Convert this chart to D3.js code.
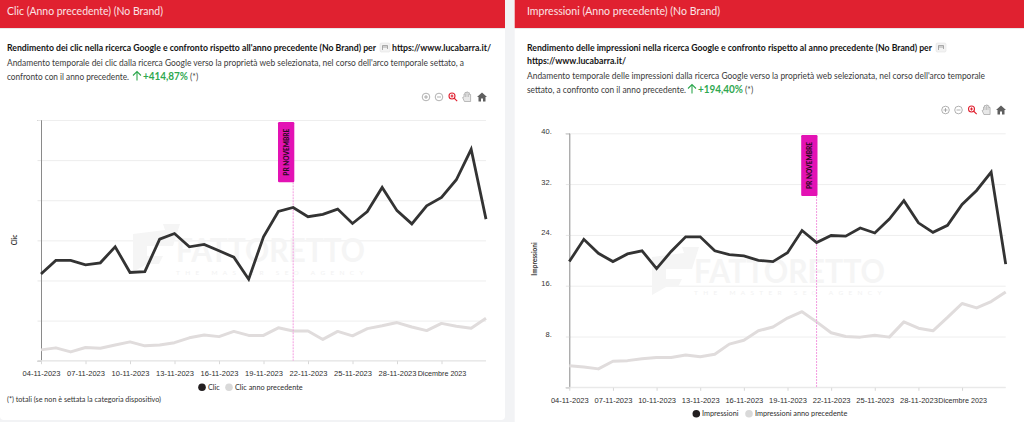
<!DOCTYPE html>
<html><head><meta charset="utf-8">
<script src="https://cdn.jsdelivr.net/npm/d3@7"></script>
<style>
html,body{margin:0;padding:0;background:#f2f3f5;overflow:hidden}
svg{display:block;font-family:"Lato","Open Sans",sans-serif}
</style></head><body><svg id="c" width="1024" height="422"></svg>
<script>
const days = ["04-11-2023","05-11-2023","06-11-2023","07-11-2023","08-11-2023","09-11-2023","10-11-2023","11-11-2023","12-11-2023","13-11-2023","14-11-2023","15-11-2023","16-11-2023","17-11-2023","18-11-2023","19-11-2023","20-11-2023","21-11-2023","22-11-2023","23-11-2023","24-11-2023","25-11-2023","26-11-2023","27-11-2023","28-11-2023","29-11-2023","30-11-2023","01-12-2023","02-12-2023","03-12-2023","04-12-2023"];
const tickDays = ["04-11-2023","07-11-2023","10-11-2023","13-11-2023","16-11-2023","19-11-2023","22-11-2023","25-11-2023","28-11-2023","01-12-2023"];
const annotationDay = "21-11-2023";
const annotationLabel = "PR NOVEMBRE";
const clic = [21.6,25.0,25.0,23.9,24.4,28.4,22.0,22.2,30.3,31.7,28.4,29.0,27.4,25.8,20.3,30.9,37.2,38.2,35.9,36.5,37.8,34.2,37.2,43.2,37.4,34.1,38.6,40.7,45.1,52.7,35.3];
const clicPrev = [2.7,3.2,2.2,3.3,3.1,3.9,4.7,3.7,3.9,4.5,5.7,6.4,6.0,7.3,6.3,6.3,8.2,7.4,7.4,5.3,7.3,6.2,8.0,8.7,9.5,8.4,7.5,9.3,8.6,8.1,10.6];
const impressioni = [19.8,23.3,21.1,19.8,21.0,21.5,18.7,21.4,23.7,23.7,21.5,20.9,20.7,20.0,19.8,21.2,24.7,22.8,23.9,23.8,25.1,24.3,26.5,29.4,25.9,24.4,25.5,28.8,31.0,33.9,19.4];
const impressioniPrev = [3.4,3.2,2.9,4.1,4.2,4.5,4.7,4.7,5.1,4.8,5.2,6.8,7.4,8.9,9.5,10.9,11.9,10.3,8.6,8.0,7.9,8.2,7.9,10.3,9.3,8.9,11.0,13.2,12.5,13.5,15.0];
const clicTicks = [0,10,20,30,40,50,60];
const impTicks = [0,8,16,24,32,40];

const panels = [
 {px:0,pw:505,pBot:420,header:"Clic (Anno precedente) (No Brand)",headW:156,tx:7,
  title:["Rendimento dei clic nella ricerca Google e confronto rispetto all'anno precedente (No Brand) per"],
  url:"https://www.lucabarra.it/",titleW:[369],iconX:380,urlX:392,urlY:50.5,urlW:99,
  sub:["Andamento temporale dei clic dalla ricerca Google verso la proprietà web selezionata, nel corso dell'arco temporale settato, a","confronto con il anno precedente."],
  subW:[457,122],subY:[66,79.5],pct:"+414,87%",arrowX:133,pctX:143,starX:190,iconY:97,
  icons:[426,439,453,467,482],
  x0:41,x1:486,yTop:120,yBot:360.7,dom:[0,60],ticks:clicTicks,showY:false,
  a:clic,b:clicPrev,name:"Clic",prevName:"Clic anno precedente",
  yLabel:[17,240],annTop:122,annBot:182.3,annRight:294.3,
  xTickY:376.5,legY:387.3,leg:[202,208,229,235],
  foot:true,wm:[133,222,176,262,189,272]},
 {px:514.7,pw:510,pBot:430,header:"Impressioni (Anno precedente) (No Brand)",headW:193,tx:527,
  title:["Rendimento delle impressioni nella ricerca Google e confronto rispetto al anno precedente (No Brand) per"],
  url:"https://www.lucabarra.it/",titleW:[405],iconX:936,urlX:527,urlY:63.5,urlW:99,
  sub:["Andamento temporale delle impressioni dalla ricerca Google verso la proprietà web selezionata, nel corso dell'arco temporale","settato, a confronto con il anno precedente."],
  subW:[458,159],subY:[79,92.5],pct:"+194,40%",arrowX:688,pctX:698,starX:745,iconY:110,
  icons:[945.5,958.5,972.5,986.5,1001],
  x0:569.3,x1:1005.7,yTop:133.3,yBot:387.3,dom:[0,40],ticks:impTicks,showY:true,
  a:impressioni,b:impressioniPrev,name:"Impressioni",prevName:"Impressioni anno precedente",
  yLabel:[537,259],annTop:135,annBot:196,annRight:817.5,
  xTickY:403,legY:413.7,leg:[696.3,702,749,755],
  foot:false,wm:[652,245,694,283,191,292]}
];

const svg = d3.select("#c");
const dark="#333333", light="#e0dcdc", red="#e02130", green="#2fa84f", pink="#e312b4";

function t(g,x,y,s,o={}){
  const e=g.append("text").attr("x",x).attr("y",y).text(s)
   .attr("font-size",o.size||9.5).attr("fill",o.fill||"#444").attr("font-weight",o.weight||400);
  if(o.w) e.attr("textLength",o.w).attr("lengthAdjust","spacingAndGlyphs");
  if(o.anchor) e.attr("text-anchor",o.anchor);
  if(o.ls) e.attr("letter-spacing",o.ls);
  return e;
}

panels.forEach(p=>{
  const g=svg.append("g");
  g.append("rect").attr("x",p.px).attr("y",-6).attr("width",p.pw).attr("height",p.pBot+6).attr("rx",4).attr("fill","#fff");
  g.append("rect").attr("x",p.px).attr("y",0).attr("width",p.pw).attr("height",28).attr("fill",red);
  g.append("rect").attr("x",p.px).attr("y",28).attr("width",p.pw).attr("height",1).attr("fill","#e8e8ea");
  t(g,p.tx,15,p.header,{size:10.5,fill:"#fbe3e5",w:p.headW});

  t(g,p.tx,50.5,p.title[0],{size:8.5,weight:700,fill:"#141414",w:p.titleW[0]});
  g.append("rect").attr("x",p.iconX).attr("y",43).attr("width",10).attr("height",9).attr("rx",1.5).attr("fill","#f3f3f3").attr("stroke","#dcdcdc").attr("stroke-width",.5);
  g.append("path").attr("d",`M${p.iconX+2.5} ${50}V${45.5}H${p.iconX+7.5}V${49}M${p.iconX+2.5} ${47}H${p.iconX+7.5}`)
    .attr("fill","none").attr("stroke","#8a8a8a").attr("stroke-width",.7);
  t(g,p.urlX,p.urlY,p.url,{size:9,weight:700,fill:"#141414",w:p.urlW});
  p.sub.forEach((s,i)=>t(g,p.tx,p.subY[i],s,{size:8.7,fill:"#3a3a3a",w:p.subW[i]}));
  const ly=p.subY[1];
  g.append("path").attr("d",`M${p.arrowX+4} ${ly+1}V${ly-8}M${p.arrowX} ${ly-4}L${p.arrowX+4} ${ly-8}L${p.arrowX+8} ${ly-4}`)
    .attr("fill","none").attr("stroke",green).attr("stroke-width",1.1);
  t(g,p.pctX,ly,p.pct,{size:10.8,weight:700,fill:green,w:45});
  t(g,p.starX,ly,"(*)",{size:8.5,fill:"#444"});

  // toolbar
  const tb=g.append("g").attr("fill","none").attr("stroke","#8f8f8f").attr("stroke-width",.7);
  const [a,b,c,d,e]=p.icons, iy=p.iconY;
  tb.append("circle").attr("cx",a).attr("cy",iy).attr("r",3.8);
  tb.append("path").attr("d",`M${a-2} ${iy}H${a+2}M${a} ${iy-2}V${iy+2}`);
  tb.append("circle").attr("cx",b).attr("cy",iy).attr("r",3.8);
  tb.append("path").attr("d",`M${b-2} ${iy}H${b+2}`);
  const m=tb.append("g").attr("stroke",red).attr("stroke-width",1.1);
  m.append("circle").attr("cx",c-1).attr("cy",iy-1).attr("r",3);
  m.append("path").attr("d",`M${c+1} ${iy+1}L${c+4.2} ${iy+4.2}M${c-2.4} ${iy-1}H${c+.4}M${c-1} ${iy-2.4}V${iy+.4}`);
  tb.append("path").attr("d",`M${d-2.6} ${iy+4.5}L${d-4.4} ${iy+.5}L${d-3} ${iy}V${iy-3}H${d-2}V${iy-4.5}H${d-.5}V${iy-5}H${d+1}V${iy-4.2}H${d+2.4}V${iy-2.5}H${d+3.6}V${iy+4.5}Z`)
    .attr("fill","#e8e8e8").attr("stroke","#a0a0a0");
  tb.append("path").attr("d",`M${d-1.5} ${iy-3}V${iy}M${d} ${iy-4}V${iy}M${d+1.5} ${iy-3}V${iy}`).attr("stroke","#a0a0a0").attr("stroke-width",.5);
  tb.append("path").attr("d",`M${e-5} ${iy}L${e} ${iy-4.5}L${e+5} ${iy}H${e+3.5}V${iy+4.5}H${e+1}V${iy+1.5}H${e-1}V${iy+4.5}H${e-3.5}V${iy}Z`)
    .attr("fill","#5f5f5f").attr("stroke","none");

  // scales
  const x=d3.scalePoint().domain(days).range([p.x0,p.x1]);
  const y=d3.scaleLinear().domain(p.dom).range([p.yBot,p.yTop]);

  // grid
  const grid=g.append("g").attr("transform",`translate(${p.x0},0)`)
    .call(d3.axisLeft(y).tickValues(p.ticks).tickSize(-(p.x1-p.x0)).tickFormat(""));
  grid.select(".domain").remove();
  grid.selectAll("line").attr("stroke","#eeeeee").attr("stroke-width",1);

  // watermark
  const w=p.wm, wg=g.append("g");
  wg.append("path").attr("d",`M${w[0]} ${w[1]+12}L${w[0]+32} ${w[1]+8}L${w[0]+30} ${w[1]+2}L${w[0]+47} ${w[1]+2}L${w[0]+40} ${w[1]+24}L${w[0]+14} ${w[1]+24}V${w[1]+34}H${w[0]+30}L${w[0]+26} ${w[1]+42}H${w[0]+14}L${w[0]} ${w[1]+50}Z`)
    .attr("fill","#f5f5f5");
  t(wg,w[2],w[3],"FATTORETTO",{size:33,weight:700,fill:"#f5f5f5",w:w[4]});
  t(wg,w[2],w[5]+3,"THE MASTER SEO AGENCY",{size:6.5,fill:"#f2f2f2",ls:5.3});

  // axes
  const ya=g.append("g").attr("transform",`translate(${p.x0},0)`)
    .call(d3.axisLeft(y).tickValues(p.ticks).tickSize(3.5).tickPadding(14)
      .tickFormat(v=>p.showY&&v>0?v+".":""));
  ya.select(".domain").attr("stroke","#8a8a8a").attr("stroke-width",1);
  ya.selectAll("line").attr("stroke","#e6e6e6");
  ya.selectAll("text").attr("font-size",7.5).attr("fill","#333").attr("font-family","inherit").attr("dy","0");

  const xa=g.append("g").attr("transform",`translate(0,${p.yBot})`)
    .call(d3.axisBottom(x).tickValues(tickDays).tickSize(3.5).tickPadding(0)
      .tickFormat(d=>d==="01-12-2023"?"Dicembre 2023":d));
  xa.select(".domain").remove();
  xa.selectAll("line").attr("stroke","#d8d8d8");
  xa.selectAll("text").attr("y",p.xTickY-p.yBot).attr("dy",0).attr("font-size",7.5).attr("fill","#2e2e2e").attr("font-family","inherit");
  xa.selectAll("text").filter(d=>d==="01-12-2023").attr("font-size",7.2);
  g.append("line").attr("x1",p.x0).attr("x2",p.x1).attr("y1",p.yBot).attr("y2",p.yBot).attr("stroke","#e6e6e6");

  const yl=t(g,p.yLabel[0],p.yLabel[1],p.name,{size:6.5,weight:700,fill:"#333",anchor:"middle"});
  yl.attr("transform",`rotate(-90 ${p.yLabel[0]} ${p.yLabel[1]})`);

  // lines
  const line=d3.line().x((v,i)=>x(days[i])).y(v=>y(v));
  g.append("path").datum(p.b).attr("d",line).attr("fill","none").attr("stroke",light).attr("stroke-width",3).attr("stroke-linejoin","round");

  // annotation
  const ax=x(annotationDay);
  g.append("line").attr("x1",ax).attr("x2",ax).attr("y1",p.annBot).attr("y2",p.yBot)
    .attr("stroke","#f49be0").attr("stroke-width",1).attr("stroke-dasharray","2 1");
  g.append("rect").attr("x",p.annRight-16.3).attr("y",p.annTop).attr("width",16.3).attr("height",p.annBot-p.annTop).attr("rx",1.2).attr("fill",pink);
  const acx=p.annRight-8.2, acy=(p.annTop+p.annBot)/2;
  t(g,acx,acy,annotationLabel,{size:6.6,weight:900,fill:"#2a0a20",anchor:"middle",w:47})
    .attr("dominant-baseline","central").attr("transform",`rotate(-90 ${acx} ${acy})`);

  g.append("path").datum(p.a).attr("d",line).attr("fill","none").attr("stroke",dark).attr("stroke-width",2.8).attr("stroke-linejoin","miter");

  // legend
  const L=p.leg;
  g.append("circle").attr("cx",L[0]).attr("cy",p.legY).attr("r",3.8).attr("fill","#231f20");
  t(g,L[1],p.legY+2.7,p.name,{size:7.3,fill:"#2e2e2e"});
  g.append("circle").attr("cx",L[2]).attr("cy",p.legY).attr("r",3.8).attr("fill","#d9d9d9");
  t(g,L[3],p.legY+2.7,p.prevName,{size:7.3,fill:"#2e2e2e"});

  if(p.foot) t(g,7,401.5,"(*) totali (se non è settata la categoria dispositivo)",{size:7.6,fill:"#333",w:154});
});
</script></body></html>
